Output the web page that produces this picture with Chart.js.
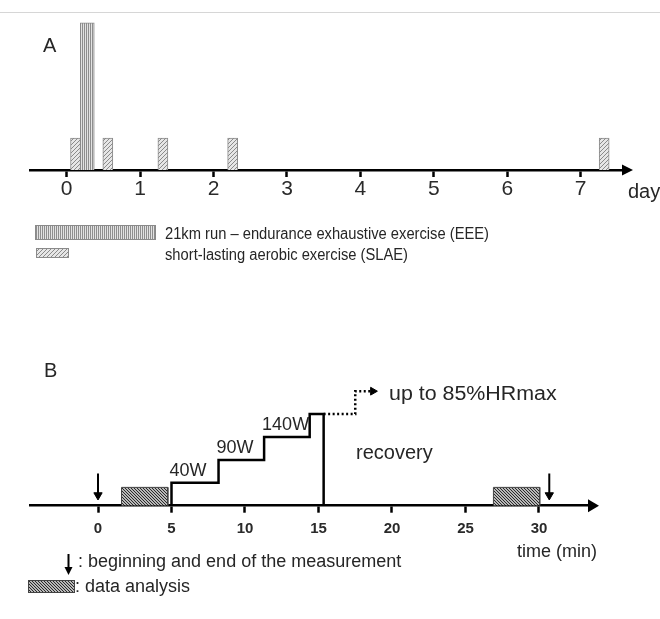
<!DOCTYPE html>
<html>
<head>
<meta charset="utf-8">
<script src="https://cdn.jsdelivr.net/npm/chart.js@4.4.0/dist/chart.umd.min.js"></script>
<style>
body { margin: 0; background: #fff; }
#wrap { position: relative; width: 660px; height: 619px; overflow: hidden; font-family: "Liberation Sans", Arial, sans-serif; color: #262626; }
#rule { position: absolute; left: 0; top: 12px; width: 660px; height: 1px; background: #d6d6d6; }
canvas { position: absolute; left: 0; }
.t { position: absolute; white-space: nowrap; line-height: 1; }
</style>
</head>
<body>
<div id="wrap">
  <div id="rule"></div>
  <canvas id="chartA" width="660" height="270" style="top:0"></canvas>
  <canvas id="chartB" width="660" height="289" style="top:330px"></canvas>
</div>
<script>
// ---- panel A : exercise sessions over days ----
const dayTicks = [0, 1, 2, 3, 4, 5, 6, 7];
const eeeDay = [0.28];
const eeeLoad = [4.6];
const slaeDay = [0.12, 0.56, 1.31, 2.26, 7.32];
const slaeLoad = [1, 1, 1, 1, 1];

// ---- panel B : SLAE protocol over minutes ----
const minuteTicks = [0, 5, 10, 15, 20, 25, 30];
const stageStart = [5, 8.2, 11.3, 14.4];
const stageLevel = [1, 2, 3, 4];
const stageLabels = ['40W', '90W', '140W'];
const stageEnd = 15.35;
const rampX = [17.5, 18.7];
const rampLevel = 5;
const analysisStart = [1.6, 26.9];
const analysisEnd = [4.75, 30.05];
const analysisLevel = 0.8;
const measureAt = [0, 30.7];
const measureTop = 1.41;
const measureTip = 0.46;

Chart.defaults.font.family = '"Liberation Sans", Arial, sans-serif';

//hatch tiles
function tile(size, bg, fg, on) {
    const c = document.createElement('canvas');
    c.width = c.height = size;
    const g = c.getContext('2d');
    g.fillStyle = bg;
    g.fillRect(0, 0, size, size);
    g.fillStyle = fg;
    for (let y = 0; y < size; y++)
        for (let x = 0; x < size; x++)
            if (on(x, y)) g.fillRect(x, y, 1, 1);
    return c;
}
const ctxA = document.getElementById('chartA').getContext('2d');
const patEEE = ctxA.createPattern(tile(2, '#e2e2e2', '#8e8e8e', (x, y) => x === 0), 'repeat');
const patSLAE = ctxA.createPattern(tile(4, '#e6e6e6', '#8a8a8a', (x, y) => (x + y) % 4 === 3), 'repeat');
const patData = ctxA.createPattern(tile(3, '#b8b8b8', '#2a2a2a', (x, y) => (x - y + 3) % 3 === 0), 'repeat');

function swatch(ctx, x, y, w, h, fill, edge) {
    ctx.save();
    ctx.fillStyle = fill;
    ctx.fillRect(x, y, w, h);
    ctx.strokeStyle = edge;
    ctx.lineWidth = 1;
    ctx.strokeRect(x + 0.5, y + 0.5, w - 1, h - 1);
    ctx.restore();
}

//arrow head at the end of the x axis
const axisArrow = {
    id: 'axisArrow',
    afterDraw(chart, args, opts) {
        const { ctx, chartArea: a } = chart;
        ctx.save();
        ctx.fillStyle = '#000';
        ctx.beginPath();
        ctx.moveTo(a.right + opts.len, a.bottom);
        ctx.lineTo(a.right - 2, a.bottom - opts.half);
        ctx.lineTo(a.right - 2, a.bottom + opts.half);
        ctx.closePath();
        ctx.fill();
        ctx.restore();
    }
};

const legendA = {
    id: 'legendA',
    afterDraw(chart) {
        swatch(chart.ctx, 35, 225, 121, 15, patEEE, '#8a8a8a');
        swatch(chart.ctx, 36, 248, 33, 10, patSLAE, '#8a8a8a');
    }
};

const legendB = {
    id: 'legendB',
    afterDraw(chart) {
        const ctx = chart.ctx;
        ctx.save();
        ctx.strokeStyle = '#000';
        ctx.fillStyle = '#000';
        ctx.lineWidth = 2;
        ctx.beginPath();
        ctx.moveTo(68.5, 224);
        ctx.lineTo(68.5, 238);
        ctx.stroke();
        ctx.beginPath();
        ctx.moveTo(68.5, 245);
        ctx.lineTo(64.5, 237);
        ctx.lineTo(72.5, 237);
        ctx.closePath();
        ctx.fill();
        ctx.restore();
        swatch(ctx, 28, 250, 47, 13, patData, '#444');
    }
};

function xAxis(min, max, ticks, tickFont, pad) {
    return {
        type: 'linear', min: min, max: max, offset: false,
        afterBuildTicks: s => { s.ticks = ticks.map(v => ({ value: v })); },
        afterFit: s => { s.height = 30; },
        grid: { display: true, drawOnChartArea: false, drawTicks: true, tickLength: 7, tickWidth: 2.5, tickColor: '#000', offset: false },
        border: { display: true, color: '#000', width: 2.5 },
        ticks: { color: '#2a2a2a', font: tickFont, padding: pad, maxRotation: 0, autoSkip: false }
    };
}

//LOAD : panel A
const chartA = new Chart(document.getElementById('chartA'), {
    type: 'bar',
    data: {
        datasets: [{
            label: '21km run - endurance exhaustive exercise (EEE)',
            data: eeeDay.map((d, i) => ({ x: d, y: eeeLoad[i] })),
            backgroundColor: patEEE,
            borderColor: '#8a8a8a',
            borderWidth: 1,
            barThickness: 14,
            grouped: false,
            order: 0
        }, {
            label: 'short-lasting aerobic exercise (SLAE)',
            data: slaeDay.map((d, i) => ({ x: d, y: slaeLoad[i] })),
            backgroundColor: patSLAE,
            borderColor: '#8a8a8a',
            borderWidth: 1,
            barThickness: 10,
            grouped: false,
            order: 1
        }]
    },
    options: {
        responsive: false,
        animation: false,
        events: [],
        layout: { padding: { left: 30, right: 36, top: 19.6, bottom: 70 } },
        plugins: {
            legend: { display: false },
            tooltip: { enabled: false },
            axisArrow: { len: 9, half: 5.5 }
        },
        scales: {
            x: xAxis(-0.5, 7.59, dayTicks, { size: 21 }, 0),
            y: { display: false, min: 0, max: 4.7 }
        }
    },
    plugins: [axisArrow, legendA]
});

//panel B datasets
let stairs = [{ x: stageStart[0], y: 0 }];
for (let i = 0; i < stageStart.length; i++) {
    stairs.push({ x: stageStart[i], y: stageLevel[i] });
    stairs.push({ x: i < stageStart.length - 1 ? stageStart[i + 1] : stageEnd, y: stageLevel[i] });
}
stairs.push({ x: stageEnd, y: 0 });

const last = stageLevel[stageLevel.length - 1];
const ramp = [
    { x: stageEnd, y: last },
    { x: rampX[0], y: last },
    { x: rampX[0], y: rampLevel },
    { x: rampX[1], y: rampLevel }
];

let datasetsB = [{
    data: stairs, borderColor: '#000', borderWidth: 2.5, pointRadius: 0, fill: false
}, {
    data: ramp, borderColor: '#000', borderWidth: 2.5, borderDash: [2, 2.5], fill: false,
    pointRadius: [0, 0, 0, 4.5], pointStyle: 'triangle', pointRotation: 90,
    pointBackgroundColor: '#000', pointBorderColor: '#000', pointBorderWidth: 1
}];
for (let i = 0; i < analysisStart.length; i++) {
    datasetsB.push({
        data: [
            { x: analysisStart[i], y: 0 }, { x: analysisStart[i], y: analysisLevel },
            { x: analysisEnd[i], y: analysisLevel }, { x: analysisEnd[i], y: 0 }
        ],
        borderColor: '#444', borderWidth: 1, backgroundColor: patData, fill: 'origin', pointRadius: 0
    });
}
measureAt.forEach(t => {
    datasetsB.push({
        data: [{ x: t, y: measureTop }, { x: t, y: measureTip }],
        borderColor: '#000', borderWidth: 2, fill: false,
        pointRadius: [0, 4.8], pointStyle: 'triangle', pointRotation: 180,
        pointBackgroundColor: '#000', pointBorderColor: '#000', pointBorderWidth: 1
    });
});

const chartB = new Chart(document.getElementById('chartB'), {
    type: 'line',
    data: { datasets: datasetsB },
    options: {
        responsive: false,
        animation: false,
        events: [],
        layout: { padding: { left: 30, right: 70, top: 38.3, bottom: 83.3 } },
        plugins: {
            legend: { display: false },
            tooltip: { enabled: false },
            axisArrow: { len: 9, half: 6.5 }
        },
        scales: {
            x: xAxis(-4.626, 33.47, minuteTicks, { size: 15, weight: 'bold' }, 7),
            y: { display: false, min: 0, max: 6 }
        }
    },
    plugins: [axisArrow, legendB]
});

//text
const wrap = document.getElementById('wrap');
function label(text, x, cy, size, sx) {
    const d = document.createElement('div');
    d.className = 't';
    d.textContent = text;
    d.style.left = x + 'px';
    d.style.top = (cy - 0.49 * size) + 'px';
    d.style.fontSize = size + 'px';
    if (sx) { d.style.transform = 'scaleX(' + sx + ')'; d.style.transformOrigin = '0 50%'; }
    wrap.appendChild(d);
}
label('A', 43, 45, 20);
label('day', 628, 190.5, 20);
label('21km run \u2013 endurance exhaustive exercise (EEE)', 165, 234, 16, 0.92);
label('short-lasting aerobic exercise (SLAE)', 165, 255, 16, 0.92);

label('B', 44, 370, 20);
const bx = chartB.scales.x, by = chartB.scales.y;
stageLabels.forEach((s, i) => {
    label(s, bx.getPixelForValue(stageStart[i]) - 2, 330 + by.getPixelForValue(stageLevel[i]) - 13, 18);
});
label('up to 85%HRmax', bx.getPixelForValue(rampX[1]) + 16, 330 + by.getPixelForValue(rampLevel) + 2, 20, 1.07);
label('recovery', 356, 451.5, 20);
label('time (min)', 517, 550.5, 18);
label(': beginning and end of the measurement', 78, 561, 18);
label(': data analysis', 75, 585.5, 18);
</script>
</body>
</html>
